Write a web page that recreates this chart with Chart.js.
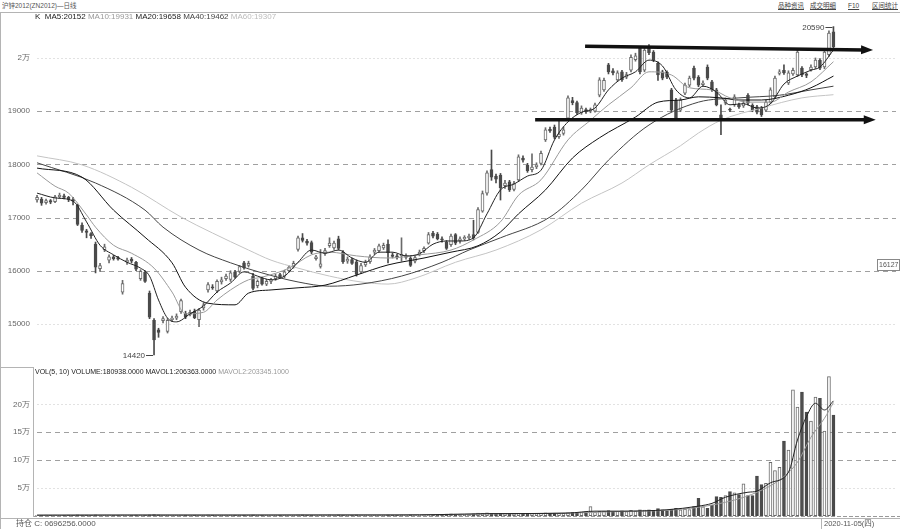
<!DOCTYPE html>
<html>
<head>
<meta charset="utf-8">
<script src="https://cdn.jsdelivr.net/npm/chart.js@4.4.0/dist/chart.umd.min.js"></script>
<style>
  html, body { margin: 0; padding: 0; background: #fff; }
  #page { position: relative; width: 900px; height: 529px; overflow: hidden;
          font-family: "Liberation Sans", "Noto Sans CJK SC", sans-serif; color: #555; }
  .txt { position: absolute; white-space: nowrap; font-size: 8px; line-height: 10px; z-index: 2; }
  .hline { position: absolute; height: 1px; background: #b4b4b4; z-index: 2; }
  .vline { position: absolute; width: 1px; background: #b4b4b4; z-index: 2; }
  canvas { position: absolute; left: 0; }
  .lnk { position: absolute; top: 0; font-size: 6.5px; text-decoration: underline; color: #444; }
  .k { color: #222; } .g { color: #999; } .d { color: #444; } .l { color: #bbb; }
</style>
</head>
<body>
<div id="page">
  <div class="txt" style="left:2px;top:1px;font-size:6.5px;">沪锌2012(ZN2012)—日线</div>
  <div class="txt" style="left:0;top:1px;width:900px;">
    <span class="lnk" style="left:778px">品种资讯</span><span class="lnk" style="left:810px">成交明细</span><span class="lnk" style="left:848px">F10</span><span class="lnk" style="left:872px">区间统计</span>
  </div>
  <div class="hline" style="left:0;top:12px;width:900px;"></div>
  <div class="vline" style="left:0;top:12px;height:517px;"></div>
  <div class="txt" style="left:35px;top:12px;">
    <span class="k">K&nbsp;&nbsp;MA5:20152</span> <span class="g">MA10:19931</span> <span class="k">MA20:19658</span> <span class="d">MA40:19462</span> <span class="l">MA60:19307</span>
  </div>

  <canvas id="kChart" width="900" height="345" style="top:20px"></canvas>

  <div class="hline" style="left:0;top:367px;width:33px;"></div>
  <div class="vline" style="left:33px;top:367px;height:150px;"></div>
  <div class="txt" style="left:35px;top:367px;font-size:7px;">
    <span class="k">VOL(5, 10) VOLUME:180938.0000 MAVOL1:206363.0000</span> <span class="g">MAVOL2:203345.1000</span>
  </div>
  <canvas id="volChart" width="900" height="150" style="top:367px"></canvas>

  <div class="hline" style="left:0;top:518px;width:900px;"></div>
  <div class="txt" style="left:16px;top:519px;">持仓 C: 0696256.0000</div>
  <div class="vline" style="left:821px;top:518px;height:11px;"></div>
  <div class="txt" style="left:824px;top:519px;font-size:7.5px;">2020-11-05(四)</div>
</div>

<script>
// daily bars, oldest first
const openP = [
  17330,17350,17280,17320,17300,17390,17410,17380,17340,17230,
  16860,16750,16700,16500,16040,16390,16200,16260,16250,15600,
  16160,16220,16160,15850,15970,15580,15070,14890,15060,14860,
  15080,15110,15230,15200,15180,15240,15080,15300,15640,15700,
  15620,15790,15850,15840,15980,15990,16150,16100,15900,15720,
  15860,15750,15800,15850,15930,15900,16000,16080,16400,16620,
  16560,16530,16230,16080,16320,16470,16430,16600,16350,16180,
  16210,16170,15980,16110,16170,16350,16380,16430,16500,16300,
  16280,16280,16250,16240,16180,16300,16380,16520,16710,16690,
  16600,16540,16490,16680,16560,16600,16620,16680,16720,17120,
  17460,17900,17780,17800,17600,17670,17530,17710,18120,17980,
  17900,17950,18020,18460,18660,18700,18520,18580,18870,19200,
  19160,18970,19030,19000,19000,19300,19400,19870,19760,19590,
  19740,19640,19770,19970,20180,19770,20200,20110,19900,19740,
  19730,19400,19210,19020,19340,19490,19810,19640,19500,19830,
  19550,19400,18930,19150,19030,19120,19120,19100,19300,19110,
  19080,19060,19020,19170,19270,19710,19770,19530,19700,19680,
  19810,19700,19780,19830,19960,19830,20060,20490
];
const highP = [
  17420,17380,17350,17340,17420,17460,17440,17400,17380,17250,
  16900,16780,16720,16540,16140,16500,16300,16290,16270,15820,
  16240,16250,16180,16020,16000,15620,15100,14920,15140,15100,
  15150,15190,15470,15240,15260,15280,15290,15400,15780,15740,
  15830,15880,15940,16000,16010,16100,16180,16180,15950,15830,
  15880,15840,15860,15940,15950,16010,16100,16180,16650,16700,
  16590,16560,16290,16400,16420,16620,16560,16650,16380,16260,
  16240,16200,16140,16200,16300,16420,16500,16520,16580,16340,
  16310,16620,16320,16270,16290,16390,16450,16720,16740,16720,
  16640,16570,16690,16700,16640,16660,16690,16950,17190,17500,
  17880,18270,17820,17830,17700,17700,17680,18180,18160,18020,
  18200,18030,18250,18690,18700,18740,18830,18700,19290,19260,
  19190,19100,19060,19060,19150,19630,19620,19900,19800,19760,
  19770,19730,20060,20090,20210,20190,20250,20140,19930,19770,
  19760,19430,19240,19250,19530,19660,19850,19670,19570,19870,
  19580,19430,19120,19250,19060,19310,19150,19190,19330,19140,
  19110,19090,19210,19440,19660,19780,19870,19760,19810,20150,
  19840,19720,19870,20000,19990,20150,20510,20590
];
const lowP = [
  17290,17230,17250,17260,17280,17360,17350,17300,17240,16850,
  16720,16620,16610,15960,15990,16360,16150,16200,16200,15560,
  16120,16150,16000,15820,15780,15100,14420,14750,15020,14830,
  15050,15080,15200,15100,15150,15100,14950,15260,15600,15650,
  15590,15750,15820,15800,15860,15960,16030,16070,15640,15680,
  15730,15720,15760,15820,15860,15870,15980,16050,16370,16540,
  16480,16320,16200,16050,16290,16440,16400,16390,16140,16140,
  16120,15900,15950,16080,16140,16310,16350,16400,16150,16240,
  16220,16180,16220,16080,16150,16280,16340,16500,16620,16580,
  16540,16400,16460,16490,16520,16570,16590,16580,16700,17100,
  17420,17700,17650,17330,17550,17490,17500,17680,18040,17850,
  17860,17920,17990,18430,18600,18480,18490,18550,18840,19120,
  18940,18940,18960,18970,18980,19270,19370,19700,19680,19560,
  19560,19610,19740,19940,19700,19740,20060,19930,19580,19590,
  19610,18990,18840,18990,19310,19460,19590,19460,19470,19590,
  19370,19100,18560,19120,18990,19090,19050,19070,19120,18990,
  18950,18900,18990,19140,19240,19680,19690,19500,19670,19650,
  19650,19630,19750,19800,19780,19800,20030,20180
];
const closeP = [
  17380,17270,17320,17290,17390,17420,17380,17340,17310,16870,
  16760,16720,16660,16070,16100,16450,16260,16230,16220,15760,
  16200,16180,16030,15990,15800,15130,14700,14840,15100,15070,
  15110,15150,15440,15130,15220,15120,15260,15360,15740,15680,
  15800,15830,15900,15960,15880,16080,16060,16140,15670,15800,
  15750,15800,15830,15900,15880,15980,16070,16140,16620,16570,
  16520,16350,16260,16130,16380,16520,16520,16420,16170,16220,
  16140,15930,16100,16160,16260,16390,16470,16480,16340,16270,
  16250,16310,16280,16100,16250,16350,16420,16680,16650,16600,
  16580,16420,16650,16520,16600,16630,16650,16620,17150,17450,
  17840,17760,17720,17560,17650,17520,17640,18140,18080,17880,
  17950,17990,18210,18650,18630,18510,18570,18650,19250,19160,
  18970,19060,18990,19030,19120,19590,19580,19740,19720,19720,
  19590,19690,20010,20040,19740,20150,20100,19960,19680,19620,
  19640,19020,18870,19210,19490,19620,19620,19490,19530,19620,
  19400,19120,18880,19210,19020,19270,19080,19150,19150,19020,
  18980,18930,19170,19400,19620,19740,19720,19720,19770,20110,
  19680,19670,19830,19960,19810,20110,20470,20210
];
const volume = [
  700,500,800,600,900,700,600,800,700,1200,
  1000,800,700,1400,1100,900,800,700,600,1000,
  700,700,900,900,1000,1500,1800,1200,1100,1000,
  800,800,1100,900,800,900,1100,1000,1200,900,
  1000,900,800,1000,900,1100,900,800,1200,1000,
  900,800,800,900,900,1000,1000,900,1400,1200,
  1000,1100,1000,1100,1000,1200,1100,1200,1100,1000,
  1000,1300,1100,900,1000,1100,1100,1000,1300,1100,
  1000,1200,1000,1200,1100,1100,1200,1500,1300,1200,
  2500,2800,3000,2700,2600,2500,2400,3200,4500,4100,
  4800,4300,3600,4000,3500,3300,3200,4200,3600,3200,
  3500,3300,4000,5200,4400,4600,4100,4200,5600,5800,
  5300,6200,7000,16000,6400,7600,8200,8900,7400,7800,
  8400,7200,9600,8300,10500,9800,10200,9400,12800,10600,
  9000,11200,13200,10400,11800,11000,16000,31000,15800,13000,
  19000,34000,33000,36000,43000,41000,38000,57000,36000,36000,
  71000,56000,58000,96000,81000,87000,134000,118000,226000,195000,
  222000,186000,170000,213000,211000,152000,250000,180938
];

// moving averages: [bar, value]
const ma5 = [[0,17460],[4,17370],[8,17310],[11,16920],[14,16480],[17,16300],[20,16160],[23,16050],
  [25,15900],[27,15450],[29,15110],[31,15040],[34,15190],[37,15340],[40,15600],[43,15770],[46,15980],
  [49,15900],[52,15830],[55,15900],[58,16160],[61,16390],[64,16330],[67,16390],[70,16240],[73,16160],
  [76,16350],[79,16350],[82,16280],[85,16320],[88,16500],[91,16560],[94,16560],[97,16620],[100,17070],
  [103,17520],[106,17630],[109,17780],[112,17890],[115,18460],[118,18800],[121,18980],[124,19060],
  [127,19400],[130,19620],[133,19740],[136,19960],[139,19850],[142,19400],[145,19250],[148,19470],
  [151,19360],[154,19120],[157,19140],[160,19060],[163,19140],[166,19510],[169,19660],[172,19770],
  [174,19830],[177,20150]];
const ma10 = [[0,17840],[4,17590],[7,17460],[11,17050],[13,16820],[17,16480],[21,16330],[26,16050],
  [30,15600],[33,15190],[37,15220],[40,15450],[43,15640],[47,15830],[50,15880],[56,16050],[61,16300],
  [65,16350],[71,16280],[78,16240],[85,16300],[92,16390],[97,16580],[103,16920],[107,17420],[112,17710],
  [118,18460],[123,18830],[127,19120],[132,19440],[136,19740],[141,19680],[145,19440],[150,19400],
  [154,19250],[158,19170],[163,19170],[167,19360],[172,19550],[177,19930]];
const ma20 = [[0,17930],[10,17760],[17,17140],[24,16630],[30,16150],[33,15690],[38,15390],[44,15360],
  [47,15580],[52,15640],[58,15680],[64,15730],[71,15920],[78,16110],[86,16240],[92,16350],[98,16470],
  [103,16730],[107,17070],[113,17520],[119,18120],[125,18500],[133,18890],[138,19170],[143,19210],
  [147,19270],[152,19250],[156,19210],[161,19210],[167,19300],[172,19440],[177,19660]];
const ma40 = [[0,18030],[13,17650],[24,17140],[28,16820],[36,16390],[43,16150],[50,15960],[58,15790],
  [65,15710],[72,15750],[81,15900],[90,16160],[96,16390],[103,16620],[114,17010],[121,17520],
  [127,18080],[136,18740],[147,19170],[156,19250],[165,19300],[172,19400],[177,19470]];
const ma60 = [[0,18160],[10,17990],[21,17570],[32,17010],[39,16710],[47,16390],[52,16200],[58,16050],
  [65,15900],[72,15790],[78,15750],[84,15860],[93,16160],[102,16390],[112,16770],[121,17270],
  [130,17650],[136,17990],[143,18350],[147,18590],[152,18830],[161,19060],[170,19250],[177,19310]];
const mavol1 = [[0,800],[20,1000],[40,950],[60,1100],[80,1150],[90,1900],[100,3500],[110,3800],
  [118,4500],[124,8000],[130,8000],[140,10500],[147,17000],[150,22000],[153,33000],[158,42000],
  [160,44000],[163,59000],[167,78000],[169,136000],[171,178000],[173,202000],[175,190000],[177,206363]];
const mavol2 = [[0,750],[20,950],[40,1000],[60,1050],[80,1100],[92,1700],[100,3000],[110,3700],
  [120,5000],[130,7500],[140,9600],[147,15000],[155,28000],[160,42000],[165,64000],[169,96000],
  [172,141000],[175,175000],[177,203345]];

const priceTicks = [15000, 16000, 17000, 18000, 19000, 20000];
const priceTickLabels = ['15000', '16000', '17000', '18000', '19000', '2万'];
const priceDashed = [16000, 17000, 18000, 19000];
const priceFaint = [15000, 20000];
const volTicks = [50000, 100000, 150000, 200000];
const volTickLabels = ['5万', '10万', '15万', '20万'];
const volDashed = [100000, 150000];
const volFaint = [50000, 200000];

// hand drawn channel lines: [bar1, price1, bar2, price2]
const channelLines = [[121.8, 20220, 185.8, 20150], [110.7, 18840, 186.4, 18840]];
const lowMark = { bar: 26, price: 14420, text: '14420' };
const highMark = { bar: 177, price: 20590, text: '20590' };
const cursorPrice = '16127';

Chart.defaults.font.family = '"Liberation Sans", sans-serif';
Chart.defaults.font.size = 8;
Chart.defaults.color = '#666';

const idx = closeP.map((_, i) => i);
const isUp = idx.map(i => closeP[i] >= openP[i]);
const DOWN = '#4a4a4a', UPLINE = '#6a6a6a';

function pts(arr) { return arr.map(([x, y]) => ({ x, y })); }

function maLine(arr, color, order) {
  return {
    type: 'line', data: pts(arr), borderColor: color, borderWidth: 1,
    pointRadius: 0, cubicInterpolationMode: 'monotone', order
  };
}

function drawGrid(chart, scaleId, dashed, faint) {
  const { ctx, chartArea: a } = chart;
  const s = chart.scales[scaleId];
  ctx.save();
  ctx.lineWidth = 1;
  ctx.strokeStyle = '#a0a0a0';
  ctx.setLineDash([5, 4]);
  dashed.forEach(v => {
    const y = Math.round(s.getPixelForValue(v)) + 0.5;
    ctx.beginPath(); ctx.moveTo(a.left + 4, y); ctx.lineTo(chart.width - 4, y); ctx.stroke();
  });
  ctx.strokeStyle = '#e2e2e2';
  ctx.setLineDash([2, 2]);
  faint.forEach(v => {
    const y = Math.round(s.getPixelForValue(v)) + 0.5;
    ctx.beginPath(); ctx.moveTo(a.left + 4, y); ctx.lineTo(chart.width - 4, y); ctx.stroke();
  });
  ctx.restore();
}

function arrow(ctx, x1, y1, x2, y2) {
  const ang = Math.atan2(y2 - y1, x2 - x1);
  const c = Math.cos(ang), s = Math.sin(ang);
  ctx.lineWidth = 3.5;
  ctx.beginPath();
  ctx.moveTo(x1, y1);
  ctx.lineTo(x2 - 9 * c, y2 - 9 * s);
  ctx.stroke();
  ctx.beginPath();
  ctx.moveTo(x2, y2);
  ctx.lineTo(x2 - 12 * c - 4.5 * s, y2 - 12 * s + 4.5 * c);
  ctx.lineTo(x2 - 12 * c + 4.5 * s, y2 - 12 * s - 4.5 * c);
  ctx.closePath();
  ctx.fill();
}

const kDecor = {
  id: 'kDecor',
  beforeDatasetsDraw(chart) {
    drawGrid(chart, 'y', priceDashed, priceFaint);
  },
  afterDatasetsDraw(chart) {
    const { ctx } = chart;
    const xs = chart.scales.x, ys = chart.scales.y;
    ctx.save();
    ctx.strokeStyle = '#111';
    ctx.fillStyle = '#111';
    channelLines.forEach(([b1, p1, b2, p2]) => {
      arrow(ctx, xs.getPixelForValue(b1), ys.getPixelForValue(p1),
                 xs.getPixelForValue(b2), ys.getPixelForValue(p2));
    });
    // extreme price marks
    ctx.font = '8px "Liberation Sans"';
    ctx.fillStyle = '#444';
    ctx.strokeStyle = '#444';
    ctx.lineWidth = 1;
    ctx.textBaseline = 'middle';
    ctx.textAlign = 'right';
    [lowMark, highMark].forEach(m => {
      const x = xs.getPixelForValue(m.bar), y = Math.round(ys.getPixelForValue(m.price)) + 0.5;
      ctx.fillText(m.text, x - 9, y);
      ctx.beginPath(); ctx.moveTo(x - 8, y); ctx.lineTo(x - 1, y); ctx.stroke();
    });
    // cursor price box on the right
    const cy = Math.round(ys.getPixelForValue(parseFloat(cursorPrice))) + 0.5;
    ctx.strokeStyle = '#888';
    ctx.strokeRect(877.5, cy - 5, 22, 11);
    ctx.font = '7px "Liberation Sans"';
    ctx.textAlign = 'left';
    ctx.fillStyle = '#555';
    ctx.fillText(cursorPrice, 879, cy + 0.5);
    ctx.restore();
  }
};

const volDecor = {
  id: 'volDecor',
  beforeDatasetsDraw(chart) {
    drawGrid(chart, 'y', volDashed, volFaint);
    const { ctx, chartArea: a } = chart;
    const y = Math.round(chart.scales.y.getPixelForValue(0)) + 0.5;
    ctx.save();
    ctx.strokeStyle = '#999';
    ctx.setLineDash([4, 2]);
    ctx.beginPath(); ctx.moveTo(a.left, y); ctx.lineTo(chart.width, y); ctx.stroke();
    ctx.restore();
  }
};

function yScale(min, max, ticks, labels) {
  return {
    min, max,
    grid: { display: false, drawTicks: false },
    border: { display: false },
    afterBuildTicks: s => { s.ticks = ticks.map(v => ({ value: v })); },
    afterFit: s => { s.width = 33; s.paddingTop = 0; s.paddingBottom = 0; },
    ticks: {
      padding: 3,
      callback: v => labels[ticks.indexOf(v)]
    }
  };
}

const xScale = { type: 'linear', min: -0.9, max: 186.9, offset: false, display: false };

new Chart(document.getElementById('kChart'), {
  type: 'bar',
  data: {
    datasets: [
      maLine(ma5, '#222', 0),
      maLine(ma10, '#9a9a9a', 0),
      maLine(ma20, '#111', 0),
      maLine(ma40, '#444', 0),
      maLine(ma60, '#c4c4c4', 0),
      {
        data: idx.map(i => ({ x: i, y: [Math.min(openP[i], closeP[i]), Math.max(openP[i], closeP[i])] })),
        backgroundColor: idx.map(i => isUp[i] ? '#fff' : DOWN),
        borderColor: idx.map(i => isUp[i] ? UPLINE : DOWN),
        borderWidth: 1, borderSkipped: false, barThickness: 3, minBarLength: 1,
        grouped: false, order: 1
      },
      {
        data: idx.map(i => ({ x: i, y: [lowP[i], highP[i]] })),
        backgroundColor: idx.map(i => isUp[i] ? UPLINE : DOWN),
        barThickness: 1, grouped: false, order: 2
      }
    ]
  },
  options: {
    responsive: false, animation: false, events: [],
    layout: { padding: { left: 0, right: 22, top: 0, bottom: 0 } },
    plugins: { legend: { display: false }, tooltip: { enabled: false } },
    scales: { x: xScale, y: yScale(14229, 20714, priceTicks, priceTickLabels) }
  },
  plugins: [kDecor]
});

new Chart(document.getElementById('volChart'), {
  type: 'bar',
  data: {
    datasets: [
      maLine(mavol1, '#222', 0),
      maLine(mavol2, '#9a9a9a', 0),
      {
        data: idx.map(i => ({ x: i, y: volume[i] })),
        backgroundColor: idx.map(i => isUp[i] ? '#fff' : DOWN),
        borderColor: idx.map(i => isUp[i] ? UPLINE : DOWN),
        borderWidth: 1, borderSkipped: false, barThickness: 3,
        grouped: false, order: 1
      }
    ]
  },
  options: {
    responsive: false, animation: false, events: [],
    layout: { padding: { left: 0, right: 22, top: 0, bottom: 0 } },
    plugins: { legend: { display: false }, tooltip: { enabled: false } },
    scales: { x: xScale, y: yScale(-2518, 267266, volTicks, volTickLabels) }
  },
  plugins: [volDecor]
});
</script>
</body>
</html>
